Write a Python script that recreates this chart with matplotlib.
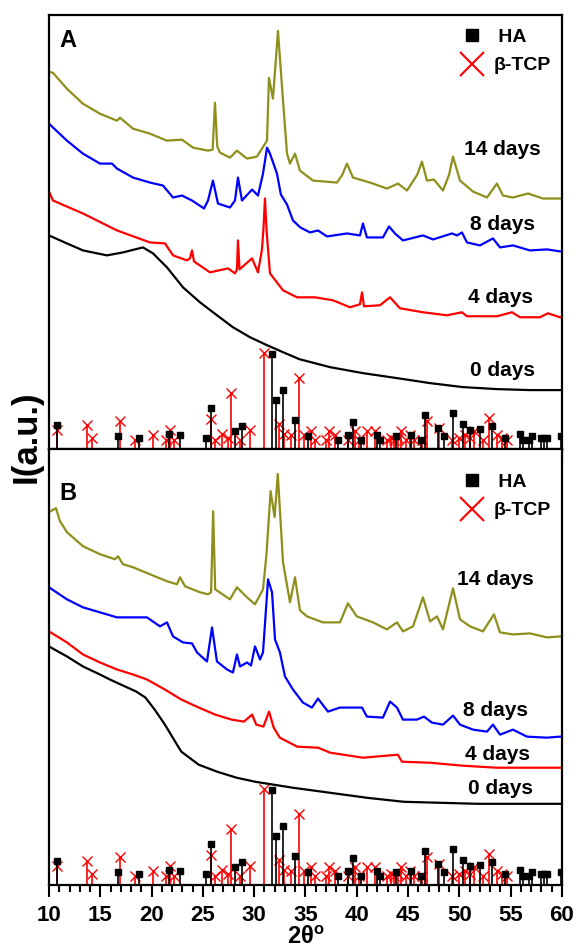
import matplotlib.pyplot as plt
from matplotlib.lines import Line2D
from matplotlib.ticker import MultipleLocator

plt.rcParams['font.family'] = ['Liberation Sans', 'DejaVu Sans']
plt.rcParams['font.weight'] = 'bold'
plt.rcParams['mathtext.fontset'] = 'custom'
plt.rcParams['mathtext.bf'] = 'Liberation Sans:bold'
plt.rcParams['mathtext.rm'] = 'Liberation Sans'

OLIVE = '#8f8f1c'

# ---- panel A patterns (2theta, intensity a.u.) ----
a14_x = [10.0, 10.39, 11.75, 13.31, 14.97, 16.63, 16.92, 18.19, 19.84, 21.5, 22.96, 24.04, 25.5, 25.95,
         26.18, 26.4, 26.67, 27.64, 28.32, 29.3, 30.27, 31.0, 31.25, 31.44, 31.83, 32.32, 32.81, 33.2,
         33.49, 33.98, 34.46, 35.73, 38.07, 38.6, 39.04, 39.63, 41.29, 42.94, 44.02, 44.89, 45.9, 46.35,
         46.84, 47.52, 48.4, 49.0, 49.38, 50.06, 51.33, 52.69, 53.66, 54.25, 55.22, 56.69, 58.15, 59.81, 60.0]
a14_y = [378, 377, 361, 346, 336, 329, 332, 321, 316, 309, 310, 302, 299, 300,
         347, 303, 297, 292, 299, 291, 293, 305, 309, 372, 351, 419, 349, 296,
         286, 296, 279, 269, 267, 275, 286, 272, 267, 261, 266, 259, 275, 288,
         269, 270, 259, 275, 293, 269, 258, 252, 266, 254, 252, 256, 251, 251, 251]

a8_x = [10.0, 11.75, 13.31, 14.97, 16.14, 16.63, 18.19, 19.84, 21.11, 22.09, 22.96, 23.94, 25.11, 25.5,
        25.98, 26.47, 27.64, 28.13, 28.42, 28.81, 29.79, 30.37, 30.86, 31.25, 31.54, 32.22, 32.6, 33.2,
        33.78, 34.5, 35.44, 36.22, 37.1, 39.04, 40.31, 40.6, 40.99, 42.55, 43.14, 43.72, 44.5, 46.45,
        47.43, 49.28, 49.77, 50.25, 50.74, 52.01, 53.27, 53.96, 55.22, 56.88, 58.54, 59.81, 60.0]
a8_y = [326, 309, 296, 286, 286, 281, 272, 267, 264, 252, 254, 249, 241, 249,
        269, 246, 242, 249, 272, 249, 260, 254, 276, 302, 296, 276, 255, 245,
        229, 222, 217, 219, 213, 216, 214, 226, 212, 212, 223, 216, 209, 214,
        210, 216, 214, 217, 207, 204, 211, 202, 204, 199, 200, 198, 198]

a4_x = [10.0, 10.39, 13.31, 16.63, 19.84, 21.31, 22.09, 23.45, 23.74, 23.94, 24.13, 25.69, 27.45, 28.13,
        28.32, 28.42, 28.57, 29.79, 30.37, 30.76, 30.9, 31.05, 31.2, 31.35, 31.54, 32.81, 34.17, 35.93,
        37.68, 39.34, 40.31, 40.51, 40.7, 42.26, 43.24, 44.21, 46.45, 48.79, 50.25, 50.74, 53.66, 55.13,
        55.91, 57.86, 58.63, 59.81, 60.0]
a4_y = [258, 249, 236, 219, 207, 206, 194, 189, 191, 199, 188, 177, 181, 176,
        180, 209, 180, 191, 177, 200, 220, 251, 220, 200, 176, 159, 152, 152,
        149, 142, 145, 157, 143, 144, 152, 141, 137, 134, 137, 133, 133, 137,
        132, 132, 136, 132, 132]

a0_x = [10.0, 11.75, 13.31, 15.65, 17.21, 19.16, 20.14, 21.5, 23.06, 24.72, 26.37, 27.93, 29.59, 31.25,
        32.81, 34.4, 37.39, 40.6, 43.92, 47.14, 50.35, 53.66, 56.88, 60.0]
a0_y = [214, 206, 199, 194, 197, 202, 196, 182, 162, 147, 134, 122, 112, 104,
        97, 90, 82, 76, 71, 66, 62, 60, 59, 59]

# ---- panel B patterns ----
b14_x = [10.0, 10.68, 11.07, 11.75, 13.31, 14.97, 16.43, 16.73, 17.21, 18.19, 19.84, 21.5, 22.48, 22.77,
         23.26, 24.72, 25.5, 25.8, 26.0, 26.2, 27.64, 28.32, 29.3, 30.08, 30.86, 31.2, 31.6, 31.99, 32.3,
         32.81, 33.49, 33.98, 34.46, 35.14, 36.7, 38.36, 39.14, 40.0, 41.58, 42.94, 43.92, 44.5, 45.48,
         46.45, 47.14, 47.82, 48.4, 49.38, 50.06, 51.04, 52.3, 53.37, 53.96, 55.22, 56.88, 58.54, 59.81, 60.0]
b14_y = [372, 376, 363, 352, 338, 330, 325, 328, 320, 317, 310, 303, 300, 307,
         298, 292, 290, 292, 373, 295, 285, 297, 287, 280, 295, 330, 393, 367, 410,
         322, 282, 307, 274, 268, 262, 262, 281, 268, 262, 255, 262, 253, 258,
         287, 263, 268, 255, 296, 265, 258, 253, 270, 252, 250, 251, 247, 248, 248]

b8_x = [10.0, 11.75, 13.31, 14.97, 16.63, 18.19, 19.55, 20.82, 21.5, 22.09, 23.06, 23.94, 24.43, 25.4,
        25.89, 26.37, 27.35, 27.93, 28.32, 28.62, 29.3, 29.69, 30.08, 30.57, 30.86, 31.35, 31.74, 32.03,
        32.51, 33.0, 33.78, 34.75, 35.63, 36.22, 37.19, 38.36, 39.63, 40.51, 40.99, 42.55, 43.24, 43.92,
        44.5, 45.87, 46.55, 47.33, 48.4, 49.38, 50.06, 51.33, 52.69, 53.27, 53.96, 55.22, 56.59, 58.54,
        59.81, 60.0]
b8_y = [297, 285, 277, 272, 267, 267, 267, 258, 262, 248, 242, 241, 232, 223,
        257, 223, 215, 212, 230, 218, 222, 219, 238, 225, 232, 305, 292, 245,
        232, 208, 195, 182, 177, 186, 173, 177, 177, 177, 168, 167, 183, 177,
        165, 165, 168, 162, 160, 169, 160, 155, 153, 160, 150, 155, 148, 147,
        148, 148]

b4_x = [10.0, 11.75, 13.31, 14.97, 16.63, 18.19, 19.55, 21.3, 22.9, 24.6, 26.2, 27.8, 29.0, 29.8,
        30.2, 30.9, 31.45, 31.9, 32.5, 34.2, 36.22, 37.4, 40.6, 44.0, 44.4, 47.1, 50.35, 53.66, 56.88,
        59.81, 60.0]
b4_y = [253, 242, 230, 222, 215, 210, 205, 195, 185, 177, 170, 165, 163, 170,
        160, 158, 173, 157, 147, 138, 137, 132, 127, 130, 123, 122, 119, 117, 117,
        117, 117]

b0_x = [10.0, 11.75, 13.31, 14.97, 15.94, 17.0, 18.5, 19.4, 20.3, 21.3, 22.3, 22.9, 24.6, 26.4, 28.3,
        30.1, 33.8, 37.4, 41.0, 44.6, 48.2, 51.8, 55.6, 60.0]
b0_y = [238, 228, 218, 210, 205, 200, 193, 187, 175, 160, 143, 133, 120, 113, 107,
        103, 97, 92, 87, 83, 82, 81, 81, 81]

# ---- reference patterns (stick positions / heights) ----
ha_pos = [10.83, 16.76, 18.74, 21.69, 22.77, 25.29, 25.83, 28.09, 28.81, 31.69, 32.12, 32.84, 33.99,
          35.29, 38.13, 39.14, 39.68, 40.40, 42.01, 42.30, 43.81, 45.25, 46.26, 46.62, 47.95, 48.49,
          49.39, 50.36, 51.08, 51.98, 53.17, 54.42, 55.86, 56.22, 56.83, 57.05, 57.91, 58.20, 58.56, 59.93]
ha_int = [24, 13, 11, 15, 14, 11, 41, 18, 23, 95, 49, 59, 29,
          13, 9, 14, 27, 9, 14, 9, 13, 14, 9, 34, 21, 13,
          36, 25, 19, 20, 23, 11, 15, 9, 9, 13, 11, 11, 11, 13]

tcp_pos = [10.83, 13.67, 14.24, 16.94, 18.35, 20.14, 21.40, 21.80, 22.16, 25.76, 26.19, 26.83, 27.48,
           27.73, 28.63, 29.60, 30.94, 32.45, 32.95, 33.56, 34.32, 34.89, 35.54, 35.97, 36.98, 37.34,
           37.88, 39.14, 39.78, 40.22, 41.00, 41.73, 42.91, 43.38, 43.63, 43.99, 44.35, 44.82, 45.18,
           45.61, 46.33, 46.87, 48.06, 49.28, 49.93, 50.58, 51.00, 51.44, 52.27, 52.88, 53.71, 54.17, 54.60]
tcp_int = [19, 24, 11, 28, 9, 14, 9, 19, 9, 30, 9, 15, 11,
           56, 9, 19, 96, 25, 15, 14, 71, 14, 18, 9, 9, 18,
           14, 9, 18, 9, 18, 18, 9, 11, 9, 11, 18, 9, 14,
           9, 9, 28, 21, 9, 11, 14, 11, 18, 9, 31, 14, 11, 9]

day_labels = ['14 days', '8 days', '4 days', '0 days']
colors = [OLIVE, 'blue', 'red', 'black']

panelA = [(a14_x, a14_y), (a8_x, a8_y), (a4_x, a4_y), (a0_x, a0_y)]
panelB = [(b14_x, b14_y), (b8_x, b8_y), (b4_x, b4_y), (b0_x, b0_y)]

# label anchor points (2theta, intensity)
posA = [(54.15, 300), (54.25, 225), (53.96, 152), (54.25, 79)]
posB = [(53.47, 305), (53.5, 174), (53.76, 130), (53.96, 96)]


def draw_panel(ax, curves, label_pos, letter, letter_y, legend_top):
    ax.vlines(tcp_pos, 0, tcp_int, color='red', linewidth=1.2)
    ax.plot(tcp_pos, tcp_int, 'x', color='red', markersize=7, markeredgewidth=1.0)
    ax.vlines(ha_pos, 0, ha_int, color='black', linewidth=1.2)
    ax.plot(ha_pos, ha_int, 's', color='black', markersize=4.5)

    for (x, y), c in zip(curves, colors):
        ax.plot(x, y, color=c, linewidth=1.6)
    for txt, (px, py) in zip(day_labels, label_pos):
        ax.text(px, py, txt, fontsize=15, fontweight='bold', ha='center', va='center')

    ax.text(0.021, letter_y, letter, transform=ax.transAxes, fontsize=17,
            fontweight='bold', ha='left', va='center')

    handles = [Line2D([], [], ls='none', marker='s', color='black', markersize=9),
               Line2D([], [], ls='none', marker='x', color='red', markersize=17, markeredgewidth=1.5)]
    ax.legend(handles, [' HA', 'β-TCP'], loc='upper right', bbox_to_anchor=(0.985, legend_top),
              frameon=False, handlelength=1.0, handletextpad=0.6,
              labelspacing=0.56, borderaxespad=0, borderpad=0.2,
              prop={'weight': 'bold', 'size': 14})

    ax.set_xlim(10, 60)
    ax.set_ylim(0, 435)
    ax.set_yticks([])
    ax.xaxis.set_major_locator(MultipleLocator(5))
    ax.xaxis.set_minor_locator(MultipleLocator(1))
    ax.tick_params(axis='x', which='major', direction='out', length=8.5, width=1.5, labelsize=16, pad=6)
    ax.tick_params(axis='x', which='minor', direction='out', length=5, width=1.5)
    for s in ax.spines.values():
        s.set_linewidth(1.6)


fig = plt.figure(figsize=(5.79, 9.51), dpi=100)
axA = fig.add_axes([0.0846, 0.5279, 0.886, 0.4564])
axB = fig.add_axes([0.0846, 0.0694, 0.886, 0.4585])

draw_panel(axA, panelA, posA, 'A', 0.94, 0.978)
draw_panel(axB, panelB, posB, 'B', 0.899, 0.953)
axA.set_xticklabels([])
for lab in axB.get_xticklabels():
    lab.set_fontweight('bold')

axB.set_xlabel('2θ$^{\\mathbf{o}}$', fontsize=17, fontweight='bold', labelpad=0)
fig.text(0.045, 0.5405, 'I(a.u.)', rotation=90, fontsize=25, fontweight='bold',
         ha='center', va='center')

fig.savefig('out.png', dpi=100)
